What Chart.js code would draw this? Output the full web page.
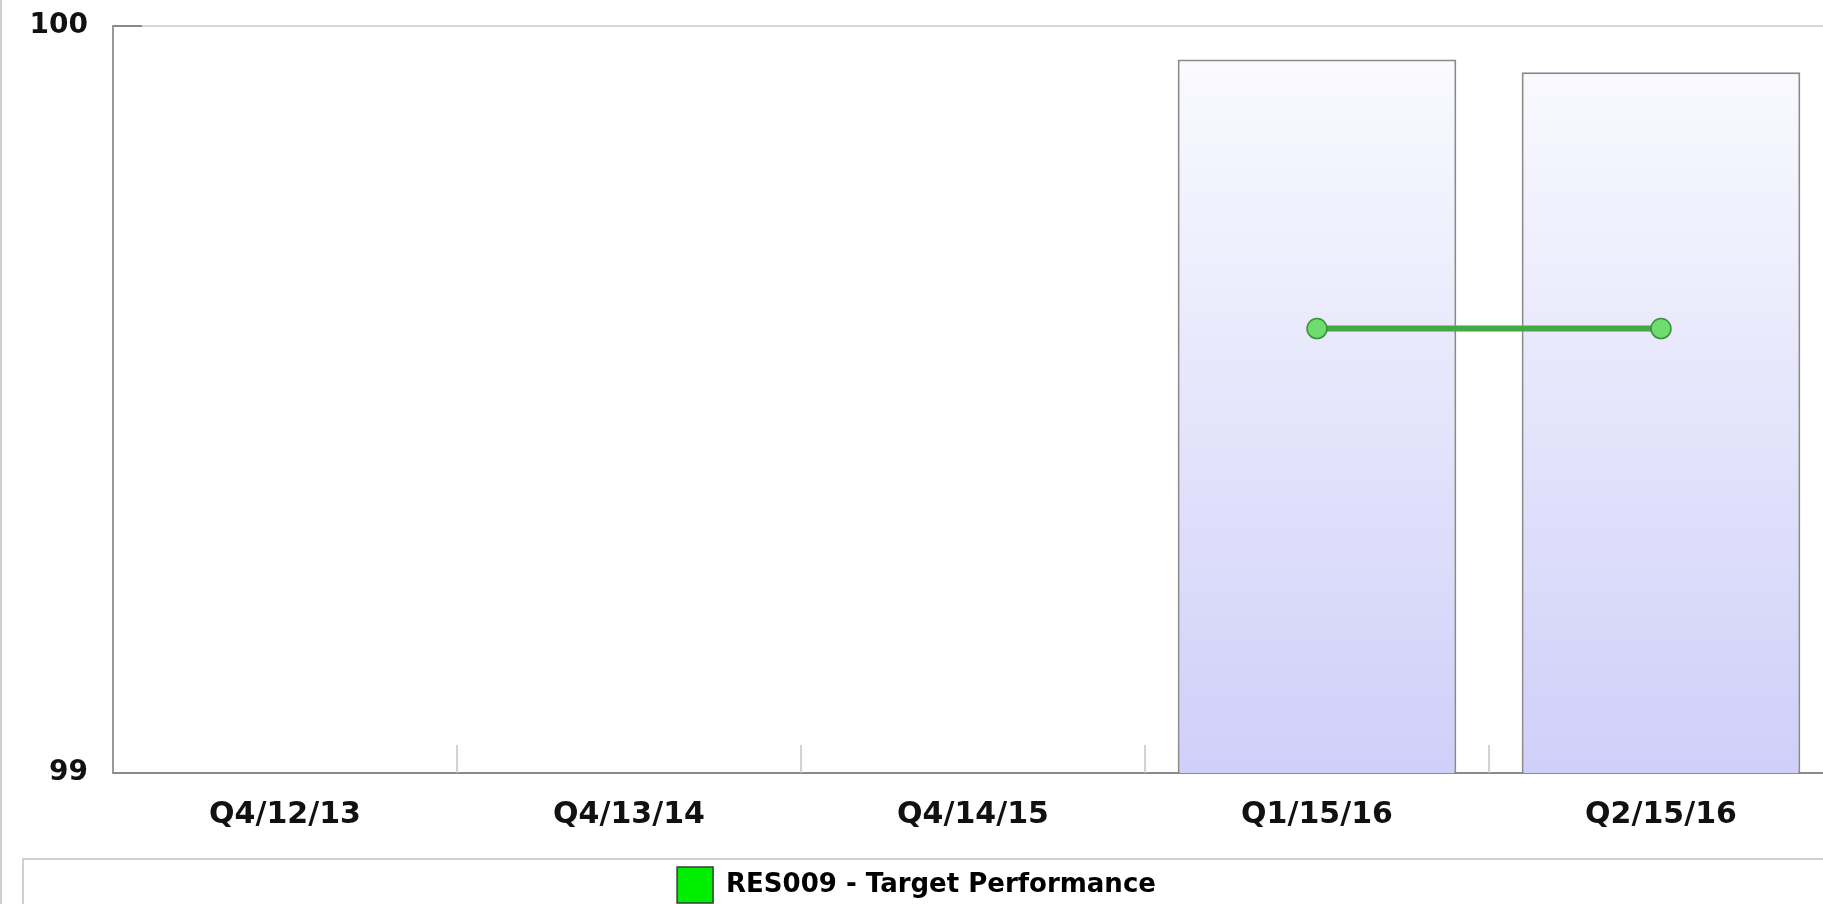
<!DOCTYPE html>
<html>
<head>
<meta charset="utf-8">
<title>RES009 - Target Performance</title>
<script src="https://cdn.jsdelivr.net/npm/chart.js@4.4.0/dist/chart.umd.min.js"></script>
<style>
  html, body { margin: 0; padding: 0; background: #fff; overflow: hidden; }
  /* the original plot runs past the right and bottom edges of the picture */
  #clip { position: relative; width: 1823px; height: 904px; overflow: hidden; }
  #perfChart { position: absolute; left: 0; top: 0; }
  #edge { position: absolute; left: 0; top: 0; width: 2px; height: 904px; background: #cfcfcf; }
</style>
</head>
<body>
<div id="clip">
  <canvas id="perfChart" width="1833" height="913"></canvas>
  <div id="edge"></div>
</div>
<script>
// Chart data
const quarters = ['Q4/12/13', 'Q4/13/14', 'Q4/14/15', 'Q1/15/16', 'Q2/15/16'];
const actualValues = [null, null, null, 99.955, 99.938];
const targetValues = [null, null, null, 99.595, 99.595];
const yTicks = [99, 100];
const legendLabel = 'RES009 - Target Performance';

const xFont = { family: 'DejaVu Sans', size: 30, weight: 'bold' };
const yFont = { family: 'DejaVu Sans', size: 28, weight: 'bold' };

// Short tick marks drawn inward, like the original chart
const insideTicks = {
  id: 'insideTicks',
  beforeDatasetsDraw(chart) {
    const { ctx, chartArea, scales: { x, y } } = chart;
    ctx.save();
    ctx.lineWidth = 1.5;
    ctx.strokeStyle = '#c4c4c4';
    for (let i = 1; i <= quarters.length; i++) {
      const px = (x.getPixelForValue(i - 1) + x.getPixelForValue(i)) / 2;
      ctx.beginPath();
      ctx.moveTo(px, chartArea.bottom);
      ctx.lineTo(px, chartArea.bottom - 28);
      ctx.stroke();
    }
    ctx.lineWidth = 2;
    ctx.strokeStyle = '#8a8a8a';
    yTicks.forEach(v => {
      const py = y.getPixelForValue(v);
      ctx.beginPath();
      ctx.moveTo(chartArea.left, py);
      ctx.lineTo(chartArea.left + 29, py);
      ctx.stroke();
    });
    ctx.restore();
  }
};

// Frame around the legend
const legendFrame = {
  id: 'legendFrame',
  afterDraw(chart) {
    const { ctx, legend } = chart;
    ctx.save();
    ctx.strokeStyle = '#cfcfcf';
    ctx.lineWidth = 2;
    ctx.strokeRect(23, legend.top, chart.width, 200);
    ctx.restore();
  }
};

function barGradient(context) {
  const area = context.chart.chartArea;
  if (!area) return '#e4e4fb';
  const g = context.chart.ctx.createLinearGradient(0, area.top, 0, area.bottom);
  g.addColorStop(0, '#fcfcff');
  g.addColorStop(1, '#cfcff9');
  return g;
}

new Chart(document.getElementById('perfChart'), {
  type: 'bar',
  data: {
    labels: quarters,
    datasets: [{
      type: 'line',
      label: legendLabel,
      data: targetValues,
      borderColor: '#44a844',
      backgroundColor: '#00ee00',
      borderWidth: 6,
      pointRadius: 10,
      pointBackgroundColor: '#6fdc6f',
      pointBorderColor: '#3a923a',
      pointBorderWidth: 1.5,
      order: 0
    }, {
      label: 'Actual',
      data: actualValues,
      backgroundColor: barGradient,
      borderColor: '#8a8a8a',
      borderWidth: 2,
      borderSkipped: false,
      categoryPercentage: 1,
      barPercentage: 0.81,
      order: 1
    }]
  },
  options: {
    responsive: false,
    animation: false,
    layout: { autoPadding: false, padding: { top: 26, left: 0, right: 0, bottom: 0 } },
    plugins: {
      tooltip: { enabled: false },
      legend: {
        position: 'bottom',
        labels: {
          font: { family: 'DejaVu Sans', size: 26, weight: 'bold' },
          color: '#111',
          boxWidth: 36,
          boxHeight: 36,
          padding: 8,
          generateLabels: () => [{
            text: legendLabel,
            fillStyle: '#00ee00',
            strokeStyle: '#3a3a3a',
            lineWidth: 1.5,
            datasetIndex: 0,
            hidden: false
          }]
        }
      }
    },
    scales: {
      x: {
        offset: true,
        grid: { display: false, drawTicks: false },
        border: { display: true, color: '#8a8a8a', width: 2 },
        ticks: { font: xFont, color: '#111', padding: 24, maxRotation: 0, autoSkip: false },
        afterFit: s => { s.height = 86; s.paddingLeft = 0; s.paddingRight = 0; }
      },
      y: {
        min: yTicks[0],
        max: yTicks[yTicks.length - 1],
        grid: { color: '#d8d8d8', lineWidth: 2, drawTicks: false },
        border: { display: true, color: '#999', width: 2 },
        ticks: { stepSize: 1, font: yFont, color: '#111', padding: 25 },
        afterFit: s => { s.width = 113; s.paddingTop = 0; s.paddingBottom = 0; }
      }
    }
  },
  plugins: [insideTicks, legendFrame]
});
</script>
</body>
</html>
